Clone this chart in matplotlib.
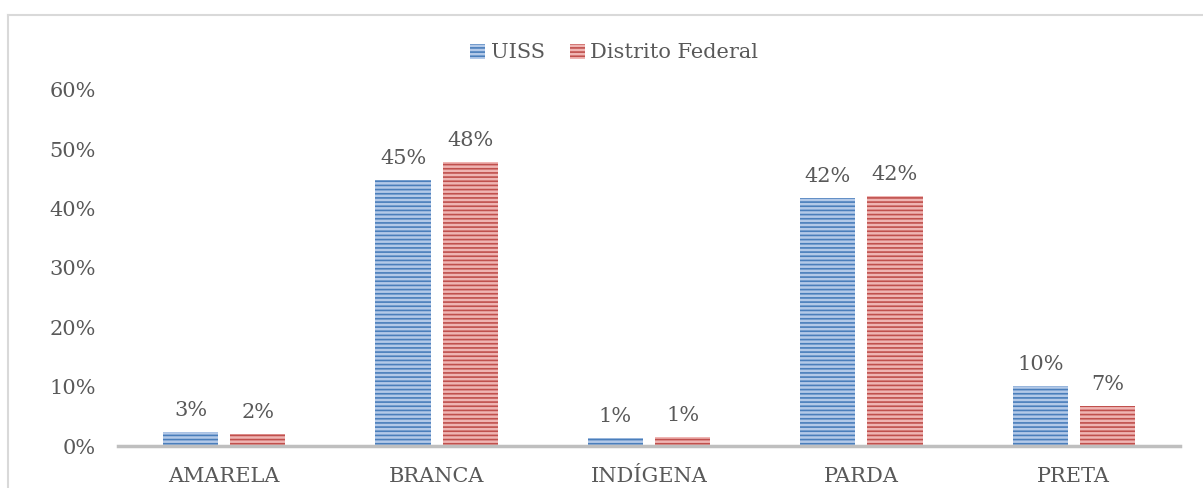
import matplotlib
matplotlib.use("Agg")
import matplotlib.pyplot as plt
import numpy as np
from matplotlib.patches import Rectangle
from matplotlib.lines import Line2D

categories = ["AMARELA", "BRANCA", "INDÍGENA", "PARDA", "PRETA"]
uiss = [2.4, 44.9, 1.3, 41.8, 10.1]
df = [2.0, 47.9, 1.5, 42.2, 6.7]
uiss_labels = ["3%", "45%", "1%", "42%", "10%"]
df_labels = ["2%", "48%", "1%", "42%", "7%"]
yticks = [0, 10, 20, 30, 40, 50, 60]
series_names = ["UISS", "Distrito Federal"]

plt.rcParams['font.family'] = ['DejaVu Serif']
plt.rcParams['hatch.linewidth'] = 1.2
txt = '#595959'
fs = 15

fig = plt.figure(figsize=(12.03, 4.88), dpi=100)
ax = fig.add_axes([118/1203, 1-446/488, (1180-118)/1203, (446-90)/488])

x = np.arange(len(categories))
w = 0.26
off = 0.158
blue_face, blue_line = '#B3C9E8', '#4A7EBB'
red_face, red_line = '#EFB5B3', '#C0504D'
ax.bar(x - off, uiss, w, facecolor=blue_face, edgecolor=blue_line, hatch='----', linewidth=0)
ax.bar(x + off, df, w, facecolor=red_face, edgecolor=red_line, hatch='----', linewidth=0)

for xi, v, l in zip(x - off, uiss, uiss_labels):
    ax.text(xi, v + 2.0, l, ha='center', va='bottom', fontsize=fs, color=txt)
for xi, v, l in zip(x + off, df, df_labels):
    ax.text(xi, v + 2.0, l, ha='center', va='bottom', fontsize=fs, color=txt)

ax.set_xlim(-0.5, 4.5)
ax.set_ylim(0, 60)
ax.set_yticks(yticks)
ax.set_yticklabels([f"{t}%" for t in yticks], fontsize=fs, color=txt)
ax.set_xticks(x)
ax.set_xticklabels(categories, fontsize=fs, color=txt)
ax.tick_params(axis='x', length=0, pad=15)
ax.tick_params(axis='y', length=0, pad=16)
for s in ['top', 'right', 'left']:
    ax.spines[s].set_visible(False)
ax.spines['bottom'].set_color('#BFBFBF')
ax.spines['bottom'].set_linewidth(2.5)

handles = [Rectangle((0, 0), 1, 1, facecolor=blue_face, edgecolor=blue_line, hatch='----', linewidth=0),
           Rectangle((0, 0), 1, 1, facecolor=red_face, edgecolor=red_line, hatch='----', linewidth=0)]
fig.legend(handles, series_names, loc='center', bbox_to_anchor=(614/1203, 1-53/488), ncol=2,
           frameon=False, fontsize=fs, labelcolor=txt, handlelength=0.75, handleheight=0.75,
           handletextpad=0.25, columnspacing=1.2)

# outer border
fig.add_artist(Line2D([8/1203, 8/1203], [0, 1-14.5/488], transform=fig.transFigure, color='#D9D9D9', lw=1.5))
fig.add_artist(Line2D([8/1203, 1], [1-14.5/488, 1-14.5/488], transform=fig.transFigure, color='#D9D9D9', lw=1.5))

fig.savefig("out.png", dpi=100)
